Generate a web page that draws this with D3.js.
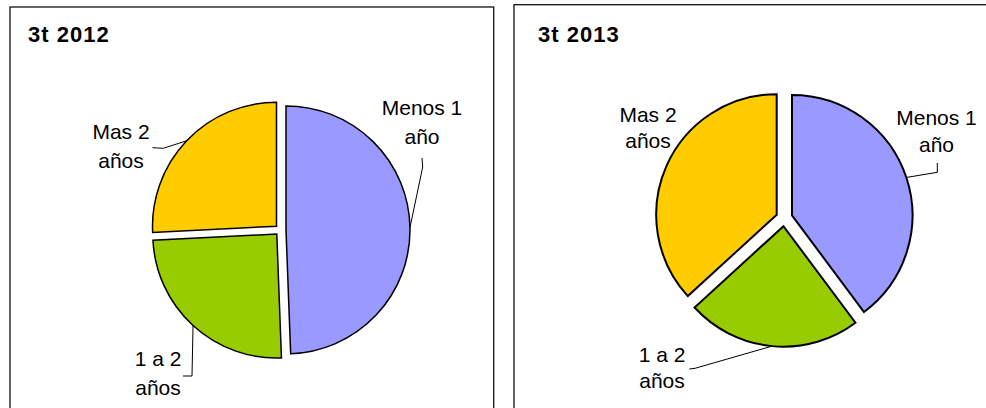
<!DOCTYPE html>
<html lang="es">
<head>
<meta charset="UTF-8">
<title>3t 2012 / 3t 2013</title>
<script src="https://d3js.org/d3.v7.min.js"></script>
<style>
    body { margin: 0; background: #fff; }
    svg { display: block; }
    .title { font-family: "Liberation Sans", Arial, sans-serif; font-weight: bold; font-size: 22px; letter-spacing: 1px; fill: #000; }
    .label { font-family: "Liberation Sans", Arial, sans-serif; font-size: 21px; fill: #000; text-anchor: middle; }
    .leader { fill: none; stroke: #000; stroke-width: 1; }
</style>
</head>
<body>
<svg width="986" height="408"></svg>
<script>
    // datos
    const categories = ["Menos 1 año", "1 a 2 años", "Mas 2 años"];
    const values2012 = [49.4, 24.8, 25.8];
    const values2013 = [39.8, 23.4, 36.8];
    const titles = ["3t 2012", "3t 2013"];
    const colors = ["#9999FF", "#99CC00", "#FFCC00"];

    // disposición de cada gráfico
    const panels = [
        {
            title: titles[0], values: values2012,
            box: { x: 10, y: 7, w: 483.7 }, titleX: 28,
            cx: 280.5, cy: 230, r: 124, explode: 5.5, sw: 1.5,
            labels: [
                { x: 422, y: 114.5, dy: 29, leader: [[422, 158], [422.7, 167]] },
                { x: 158, y: 366, dy: 29, leader: [[183, 376], [192, 376]] },
                { x: 121, y: 139, dy: 29, leader: [[152.5, 147.7], [163.3, 148.3]] }
            ]
        },
        {
            title: titles[1], values: values2013,
            box: { x: 514, y: 4.7, w: 480 }, titleX: 538,
            cx: 784.2, cy: 218, r: 120.5, explode: 8.2, sw: 2,
            labels: [
                { x: 936.5, y: 125, dy: 27, leader: [[937.3, 163], [937.3, 172.3]] },
                { x: 662, y: 361.7, dy: 26.6, leader: [[689.3, 369], [695, 368.3]] },
                { x: 648, y: 122.3, dy: 26, leader: null }
            ]
        }
    ];

    const svg = d3.select("svg");
    const color = d3.scaleOrdinal().domain(categories).range(colors);
    const pie = d3.pie().sort(null).value(d => d.value);

    panels.forEach(p => {
        const g = svg.append("g");

        g.append("rect")
            .attr("x", p.box.x).attr("y", p.box.y)
            .attr("width", p.box.w).attr("height", 420)
            .attr("fill", "none").attr("stroke", "#111").attr("stroke-width", 1.3);

        g.append("text").attr("class", "title")
            .attr("x", p.titleX).attr("y", 42)
            .text(p.title);

        const arc = d3.arc().innerRadius(0).outerRadius(p.r);
        const arcs = pie(categories.map((c, i) => ({ name: c, value: p.values[i] })));

        arcs.forEach((a, i) => {
            const mid = (a.startAngle + a.endAngle) / 2;
            const ox = p.cx + p.explode * Math.sin(mid);
            const oy = p.cy - p.explode * Math.cos(mid);

            g.append("path")
                .attr("transform", `translate(${ox},${oy})`)
                .attr("d", arc(a))
                .attr("fill", color(a.data.name))
                .attr("stroke", "#000")
                .attr("stroke-width", p.sw)
                .attr("stroke-linejoin", "miter");

            const lb = p.labels[i];
            if (lb.leader) {
                const end = [ox + p.r * Math.sin(mid), oy - p.r * Math.cos(mid)];
                g.append("path").attr("class", "leader")
                    .attr("d", d3.line()([...lb.leader, end]));
            }

            const k = a.data.name.lastIndexOf(" ");
            const lines = [a.data.name.slice(0, k), a.data.name.slice(k + 1)];
            const t = g.append("text").attr("class", "label");
            lines.forEach((s, j) => {
                t.append("tspan").attr("x", lb.x).attr("y", lb.y + j * lb.dy).text(s);
            });
        });
    });
</script>
</body>
</html>
